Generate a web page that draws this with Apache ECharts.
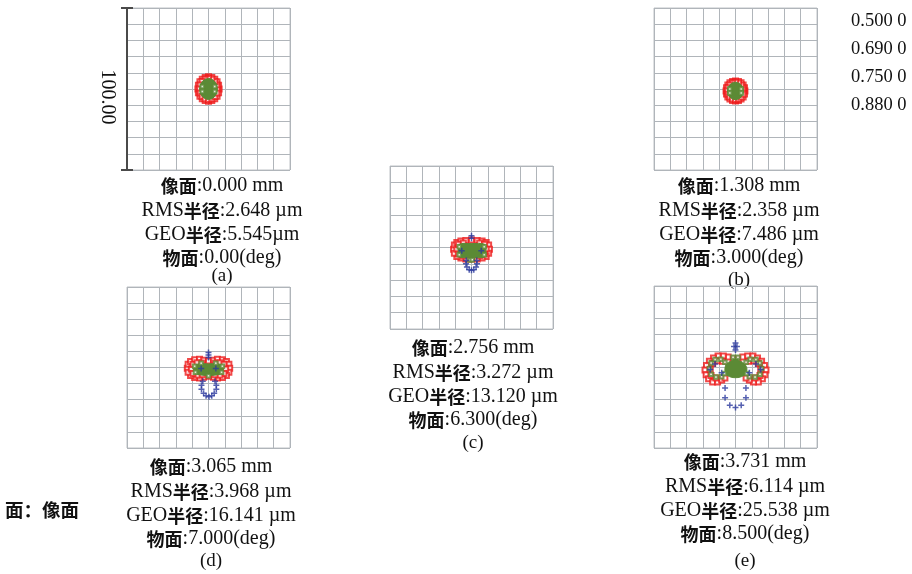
<!DOCTYPE html>
<html>
<head>
<meta charset="utf-8">
<script src="https://cdn.jsdelivr.net/npm/echarts@6/dist/echarts.min.js"></script>
<style>
  html, body { margin: 0; padding: 0; background: #fff; }
  #chart { width: 912px; height: 574px; }
</style>
</head>
<body>
<div id="chart"></div>
<script>
// Spot diagram, 5 fields. All spot coordinates are in µm relative to the chief ray.
const wavelengths = ['0.500 0', '0.690 0', '0.750 0', '0.880 0'];
const boxSize = 100; // µm, full width of each spot box
const tickStep = 10;

const panelNames = ['(a)', '(b)', '(c)', '(d)', '(e)'];
const imageHeights = ['0.000', '1.308', '2.756', '3.065', '3.731'];
const rmsRadius = ['2.648', '2.358', '3.272', '3.968', '6.114'];
const geoRadius = ['5.545', '7.486', '13.120', '16.141', '25.538'];
const fieldAngles = ['0.00', '3.000', '6.300', '7.000', '8.500'];

// (a) on-axis
const redA = [[6.5,0],[6.18,2.32],[5.26,4.41],[3.82,6.07],[2.01,7.13],[0,7.5],[-2.01,7.13],[-3.82,6.07],[-5.26,4.41],[-6.18,2.32],
  [-6.5,0],[-6.18,-2.32],[-5.26,-4.41],[-3.82,-6.07],[-2.01,-7.13],[0,-7.5],[2.01,-7.13],[3.82,-6.07],[5.26,-4.41],[6.18,-2.32],
  [5.5,0],[5.1,2.5],[3.9,4.6],[2.1,6],[0,6.5],[-2.1,6],[-3.9,4.6],[-5.1,2.5],[-5.5,0],[-5.1,-2.5],[-3.9,-4.6],[-2.1,-6],[0,-6.5],[2.1,-6],[3.9,-4.6],[5.1,-2.5]];
const coreA = [[5.4,0],[4.7,3.2],[2.7,5.6],[0,6.5],[-2.7,5.6],[-4.7,3.2],[-5.4,0],[-4.7,-3.2],[-2.7,-5.6],[0,-6.5],[2.7,-5.6],[4.7,-3.2]];
const greenA = [[3.8,1.5],[-3.8,1.5],[3.8,-1.5],[-3.8,-1.5]];
const blueA = [];

// (b) 3.0 deg
const redB = [[5.8,-1.2],[5.52,0.7],[4.69,2.5],[3.41,3.8],[1.79,4.7],[0,5],[-1.79,4.7],[-3.41,3.8],[-4.69,2.5],[-5.52,0.7],
  [-5.8,-1.2],[-5.52,-3.1],[-4.69,-4.9],[-3.41,-6.2],[-1.79,-7.1],[0,-7.4],[1.79,-7.1],[3.41,-6.2],[4.69,-4.9],[5.52,-3.1],
  [4.9,-1.2],[4.5,0.8],[3.5,2.5],[1.9,3.7],[0,4.1],[-1.9,3.7],[-3.5,2.5],[-4.5,0.8],[-4.9,-1.2],[-4.5,-3.2],[-3.5,-4.9],[-1.9,-6.1],[0,-6.5],[1.9,-6.1],[3.5,-4.9],[4.5,-3.2]];
const coreB = [[4.8,-1.2],[4.15,1.5],[2.4,3.5],[0,4.2],[-2.4,3.5],[-4.15,1.5],[-4.8,-1.2],[-4.15,-3.9],[-2.4,-5.9],[0,-6.6],[2.4,-5.9],[4.15,-3.9]];
const greenB = [[3.5,0],[-3.5,0],[3.5,-2.5],[-3.5,-2.5]];
const blueB = [];

// (c) 6.3 deg
const redC = [[-11,-1],[-10.5,1.5],[-9,3],[-6.5,4],[-3.5,4.3],[0,4.6],[3.5,4.3],[6.5,4],[9,3],[10.5,1.5],[11,-1],[10.5,-3.5],[9,-5.5],[6.5,-6.5],[3.5,-7],[0,-7.1],[-3.5,-7],[-6.5,-6.5],[-9,-5.5],[-10.5,-3.5],
  [-9,-1],[-8,2],[-5,2.8],[5,2.8],[8,2],[9,-1],[8,-4],[5,-5.2],[-5,-5.2],[-8,-4]];
const coreC = [[-7.5,2],[0,2.4],[8,2],[8.8,-2],[8,-5.8],[0,-6.2],[-7.5,-5.8],[-8.2,-2]];
const greenC = [[-7.5,0.5],[7.8,0.5],[-7.5,-4.5],[7.8,-4.5],[-1,-7.7],[0.5,-7.5]];
const blueC = [[0,7.2],[0,5.6],[-6,-2],[6,-2],[-3.2,-7.9],[3.2,-7.9],[-3.4,-10],[3.4,-10],[-2.8,-12],[2.8,-12],[-1.4,-13.6],[1.4,-13.6],[0,-14]];

// (d) 7.0 deg
const redD = [[-13,-0.5],[-12.5,2],[-11,3.8],[-8.5,4.8],[-5.5,5.2],[-3,4.5],[0,4],[3,4.5],[5.5,5.2],[8.5,4.8],[11,3.8],[12.5,2],[13,-0.5],[12.5,-3],[11,-5],[8.5,-6.2],[5.5,-6.5],[3,-6],[0,-5.5],[-3,-6],[-5.5,-6.5],[-8.5,-6.2],[-11,-5],[-12.5,-3],
  [-10.5,-1],[-9.5,2],[-7,3],[-4,2.8],[4,2.8],[7,3],[9.5,2],[10.5,-1],[9.5,-3.8],[7,-4.8],[4,-4.5],[-4,-4.5],[-7,-4.8],[-9.5,-3.8]];
const coreD = [[-9,-1],[-8,1.5],[-5,2.4],[0,2.2],[5,2.4],[8,1.5],[9,-1],[8,-3.5],[5,-4.6],[0,-4.9],[-5,-4.6],[-8,-3.5]];
const greenD = [[-8.5,0.8],[8.5,0.8],[-8,-3],[8,-3],[-4.5,2.6],[4.5,2.6],[0,-5.2]];
const blueD = [[0,9.3],[0,7.7],[0,6.2],[-4.5,-0.6],[4.5,-0.6],[-3.5,-8.5],[4,-8.5],[-4.3,-11],[4.8,-11],[-4.3,-13.5],[4.8,-13.5],[-3,-16],[3.5,-16],[-1.5,-17.5],[2,-17.5],[0.3,-18.2]];

// (e) 8.5 deg
const redE = [[-1.5,5],[-4.5,6.2],[-7.5,6.8],[-10.7,6.8],[-13.5,5.5],[-16,3.5],[-17.8,1],[-18.7,-1.9],[-18,-4.8],[-16.5,-7.3],[-14,-9.3],[-11,-9.2],[-8.5,-8],[-6.5,-6.8],
  [1.5,5],[4.5,6.2],[7.5,6.8],[10.7,6.8],[13.5,5.5],[16,3.5],[17.8,1],[18.7,-1.9],[18,-4.8],[16.5,-7.3],[14,-9.3],[11,-9.2],[8.5,-8],[6.5,-6.8],
  [-15.5,-1.5],[-14,2.2],[-11,3.8],[-8,3.6],[-15,-5.2],[-12,-6.8],[15.5,-1.5],[14,2.2],[11,3.8],[8,3.6],[15,-5.2],[12,-6.8]];
const coreE = [[-6.5,-1],[-5.5,2],[-3,3.6],[0,5],[3,3.6],[5.5,2],[7,-1],[6,-4.5],[3,-6.2],[0,-6.6],[-3,-6.2],[-5.8,-4.5]];
const greenE = [[-16,-1],[-15,2.5],[-12.5,4.6],[-9,4.8],[-6.5,3],[-15,-4.5],[-12,-6.2],[-8.5,-6],[-6.8,-4],
  [16,-1],[15,2.5],[12.5,4.6],[9,4.8],[6.5,3],[15,-4.5],[12,-6.2],[8.5,-6],[6.8,-4],[-1.5,6],[1.5,6]];
const blueE = [[0,14.8],[-0.9,12.6],[0.9,12.6],[0,10.5],[-15.5,-1.5],[-12.5,1.8],[-8.5,-3.5],[8.5,-3.5],[12.5,1.8],[15.5,-1.5],
  [-6.4,-13],[6.4,-13],[-6.4,-19],[6.4,-19],[-3.5,-23.6],[3.5,-23.6],[0,-25]];

const redSets = [redA, redB, redC, redD, redE];
const coreSets = [coreA, coreB, coreC, coreD, coreE];
const greenSets = [greenA, greenB, greenC, greenD, greenE];
const blueSets = [blueA, blueB, blueC, blueD, blueE];

// Layout of the five spot boxes and their captions (pixels)
const boxes = [
  { left: 127, top: 8,   width: 163, height: 162, tx: 222, ty: 186, ny: 276 },
  { left: 654, top: 8,   width: 163, height: 162, tx: 739, ty: 186, ny: 280 },
  { left: 390, top: 166, width: 163, height: 163, tx: 473, ty: 348, ny: 443 },
  { left: 127, top: 287, width: 163, height: 161, tx: 211, ty: 467, ny: 561 },
  { left: 654, top: 286, width: 163, height: 162, tx: 745, ty: 462, ny: 561 }
];

const RED = '#ee1c1c', GREEN = '#5b8a35', BLUE = '#2c3a9e';
const GRIDLINE = '#b0b5ba';
const PLUS = 'path://M3,0H5V3H8V5H5V8H3V5H0V3H3Z';

const grids = [], xAxes = [], yAxes = [], series = [], graphics = [];

boxes.forEach((b, i) => {
  grids.push({ left: b.left, top: b.top, width: b.width, height: b.height,
    show: true, borderColor: '#bfc3c7', borderWidth: 1, backgroundColor: '#fff' });
  const axisBase = {
    gridIndex: i, type: 'value', min: -boxSize / 2, max: boxSize / 2, interval: tickStep,
    axisLine: { show: false }, axisTick: { show: false }, axisLabel: { show: false },
    splitLine: { show: true, lineStyle: { color: GRIDLINE, width: 1 } }
  };
  xAxes.push(Object.assign({}, axisBase));
  yAxes.push(Object.assign({}, axisBase));

  series.push({
    type: 'scatter', xAxisIndex: i, yAxisIndex: i, data: redSets[i], z: 2,
    symbol: 'emptyRect', symbolSize: 5, silent: true,
    itemStyle: { color: RED, borderColor: RED, borderWidth: 1.6 }
  });
  const poly = coreSets[i];
  series.push({
    type: 'custom', xAxisIndex: i, yAxisIndex: i, data: [[0, 0]], silent: true, z: 3,
    renderItem: (params, api) => ({
      type: 'polygon',
      shape: { points: poly.map(p => api.coord(p)), smooth: 0.3 },
      style: { fill: GREEN, stroke: GREEN, lineWidth: 1 }
    })
  });
  series.push({
    type: 'scatter', xAxisIndex: i, yAxisIndex: i, data: greenSets[i], z: 4,
    symbol: 'emptyRect', symbolSize: 3.5, silent: true,
    itemStyle: { color: GREEN, borderColor: '#3f9a2a', borderWidth: 1.2 }
  });
  series.push({
    type: 'scatter', xAxisIndex: i, yAxisIndex: i, data: blueSets[i], z: 5,
    symbol: PLUS, symbolSize: 6, silent: true,
    itemStyle: { color: BLUE }
  });

  // Caption under each box
  const lines = [
    `{c|像面}{t|:${imageHeights[i]} mm}`,
    `{t|RMS}{c|半径}{t|:${rmsRadius[i]} µm}`,
    i === 0 ? `{t|GEO}{c|半径}{t|:${geoRadius[i]}µm}` : `{t|GEO}{c|半径}{t|:${geoRadius[i]} µm}`,
    `{c|物面}{t|:${fieldAngles[i]}(deg)}`
  ];
  const steps = [0, 25, 49, 72];
  lines.forEach((txt, k) => {
    graphics.push({
      type: 'text', x: b.tx, y: b.ty + steps[k], silent: true,
      style: {
        text: txt, align: 'center', verticalAlign: 'middle',
        rich: {
          c: { fontFamily: 'Noto Sans CJK SC', fontWeight: 'bold', fontSize: 18, fill: '#111' },
          t: { fontFamily: 'Liberation Serif', fontSize: 20, fill: '#111' }
        }
      }
    });
  });
  graphics.push({
    type: 'text', x: b.tx, y: b.ny, silent: true,
    style: { text: panelNames[i], align: 'center', verticalAlign: 'middle',
      fontFamily: 'Liberation Serif', fontSize: 19, fill: '#111' }
  });
});

// Scale bar on the first box: full box height = 100.00 µm
series.push({
  type: 'custom', xAxisIndex: 0, yAxisIndex: 0, data: [[-boxSize / 2, -boxSize / 2, boxSize / 2]],
  silent: true, z: 10,
  renderItem: (params, api) => {
    const bottom = api.coord([api.value(0), api.value(1)]);
    const top = api.coord([api.value(0), api.value(2)]);
    const stroke = { stroke: '#4a4a4a', lineWidth: 2 };
    return {
      type: 'group',
      children: [
        { type: 'line', shape: { x1: top[0], y1: top[1], x2: bottom[0], y2: bottom[1] }, style: stroke },
        { type: 'line', shape: { x1: top[0] - 6, y1: top[1], x2: top[0] + 6, y2: top[1] }, style: stroke },
        { type: 'line', shape: { x1: bottom[0] - 6, y1: bottom[1], x2: bottom[0] + 6, y2: bottom[1] }, style: stroke },
        { type: 'text', x: top[0] - 20, y: (top[1] + bottom[1]) / 2 + 8, rotation: -Math.PI / 2,
          style: { text: (boxSize).toFixed(2), align: 'center', verticalAlign: 'middle',
            fontFamily: 'Liberation Serif', fontSize: 20, fill: '#111' } }
      ]
    };
  }
});

// Wavelength list (µm)
wavelengths.forEach((w, k) => {
  graphics.push({
    type: 'text', x: 851, y: 21 + k * 28, silent: true,
    style: { text: w, align: 'left', verticalAlign: 'middle',
      fontFamily: 'Liberation Serif', fontSize: 18.5, fill: '#111' }
  });
});

// Surface label
graphics.push({
  type: 'text', x: 5, y: 510, silent: true,
  style: { text: '面：像面', align: 'left', verticalAlign: 'middle',
    fontFamily: 'Noto Sans CJK SC', fontWeight: 'bold', fontSize: 18.5, fill: '#111' }
});

const chart = echarts.init(document.getElementById('chart'), null, { renderer: 'canvas' });
chart.setOption({
  animation: false,
  backgroundColor: '#fff',
  grid: grids,
  xAxis: xAxes,
  yAxis: yAxes,
  series: series,
  graphic: graphics
});
</script>
</body>
</html>
